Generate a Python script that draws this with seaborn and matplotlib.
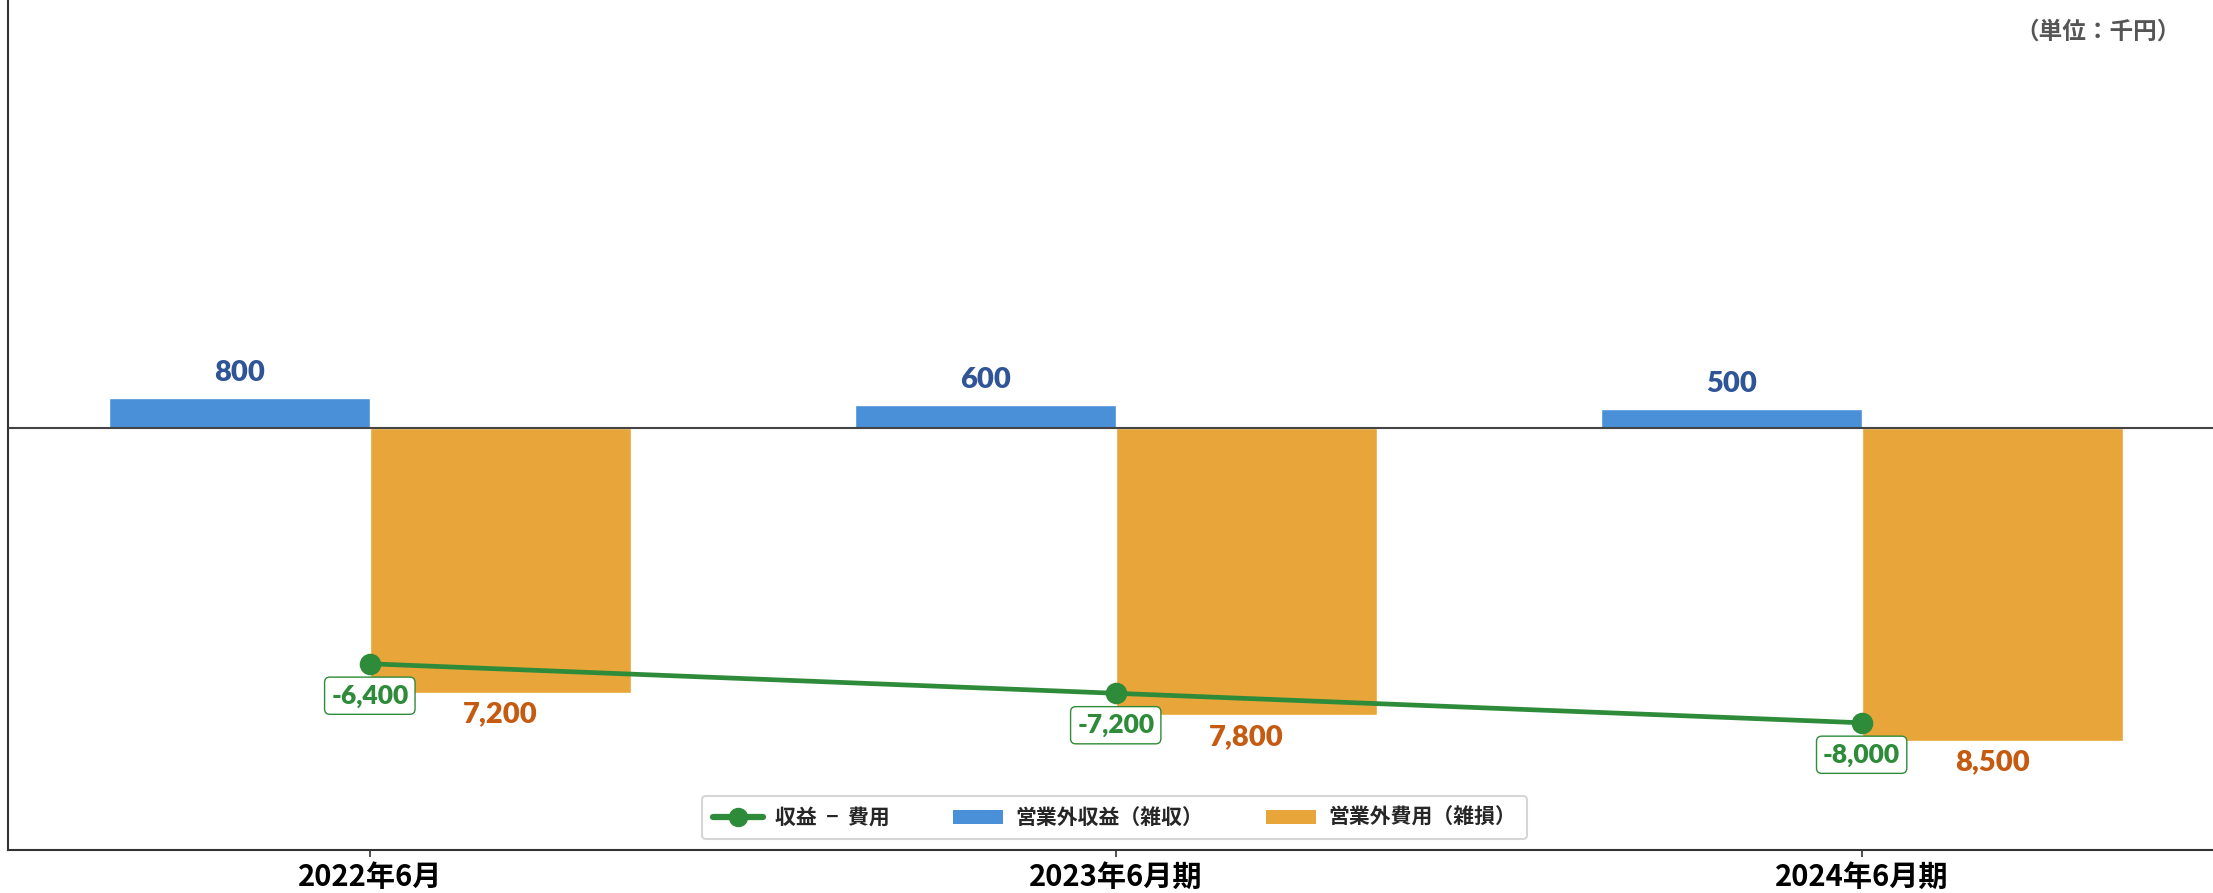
import matplotlib
matplotlib.use('Agg')
import matplotlib.pyplot as plt
import seaborn as sns
import pandas as pd
from matplotlib.patches import Patch
from matplotlib.lines import Line2D

# ---- data ----
categories = ['2022年6月', '2023年6月期', '2024年6月期']
revenue = [800, 600, 500]          # 営業外収益（雑収）
expense = [7200, 7800, 8500]       # 営業外費用（雑損）
net = [-6400, -7200, -8000]        # 収益 − 費用
series_names = ['営業外収益（雑収）', '営業外費用（雑損）']
line_name = '収益  −  費用'
unit_label = '（単位：千円）'

blue = '#4A90D9'
orange = '#E8A53A'
green = '#2E8B3A'
blue_txt = '#2F5597'
orange_txt = '#C55A11'

sns.set_theme(style='white')
plt.rcParams['font.family'] = ['Noto Sans CJK JP', 'DejaVu Sans']

df = pd.DataFrame({
    'period': categories * 2,
    'series': [series_names[0]] * len(categories) + [series_names[1]] * len(categories),
    'value': revenue + [-v for v in expense],
})

fig = plt.figure(figsize=(22.13, 8.93), dpi=100)
ax = fig.add_axes([0.0038, 0.0486, 0.9962, 0.9514])

sns.barplot(data=df, x='period', y='value', hue='series', order=categories,
            hue_order=series_names, palette=[blue, orange], width=0.7, gap=0,
            saturation=1, errorbar=None, legend=False, ax=ax)

sns.pointplot(x=categories, y=net, order=categories, color=green, markers='o',
              linestyles='-', errorbar=None, ax=ax, markersize=13, linewidth=3.4)

num_font = dict(family=['Lato', 'DejaVu Sans'], weight='heavy')

ax.bar_label(ax.containers[0], labels=[f'{v:,}' for v in revenue], padding=9,
             color=blue_txt, fontsize=21, **num_font)
ax.bar_label(ax.containers[1], labels=[f'{v:,}' for v in expense], padding=6,
             color=orange_txt, fontsize=21, **num_font)

for i, v in enumerate(net):
    ax.annotate(f'{v:,}', xy=(i, v), xytext=(0, -23), textcoords='offset points',
                ha='center', va='center', color=green, fontsize=19, **num_font,
                bbox=dict(boxstyle='round,pad=0.25,rounding_size=0.2', fc='white',
                          ec=green, lw=1.0), zorder=5)

ax.axhline(0, color='#444444', lw=1.5, zorder=3)
ax.set_xlim(-0.4845, 2.471)
ax.set_ylim(-11436, 11588)

for s in ['top', 'right']:
    ax.spines[s].set_visible(False)
for s in ['left', 'bottom']:
    ax.spines[s].set_color('#333333')
    ax.spines[s].set_linewidth(1.5)

ax.set_yticks([])
ax.set_xlabel('')
ax.set_ylabel('')
ax.tick_params(axis='x', bottom=True, length=5, width=1.2, color='#333333', pad=4)
for lab in ax.get_xticklabels():
    lab.set_fontsize(21)
    lab.set_fontweight('bold')
    lab.set_color('black')

fig.text(0.9855, 0.965, unit_label, ha='right', va='center', fontsize=17,
         fontweight='bold', color='#555555')

handles = [
    Line2D([0], [0], color=green, lw=4.5, marker='o', markersize=13),
    Patch(facecolor=blue, edgecolor='none'),
    Patch(facecolor=orange, edgecolor='none'),
]
labels = [line_name] + series_names
leg = fig.legend(handles, labels, loc='center', bbox_to_anchor=(0.5036, 0.0845),
                 ncol=3, frameon=True, handlelength=2.4,
                 handleheight=0.65, handletextpad=0.6, columnspacing=3.0,
                 borderpad=0.55, borderaxespad=0, fancybox=True,
                 prop={'weight': 'bold', 'size': 15})
leg.get_frame().set_edgecolor('#CCCCCC')
leg.get_frame().set_linewidth(1.5)

fig.savefig('out.png', dpi=100, facecolor='white')
